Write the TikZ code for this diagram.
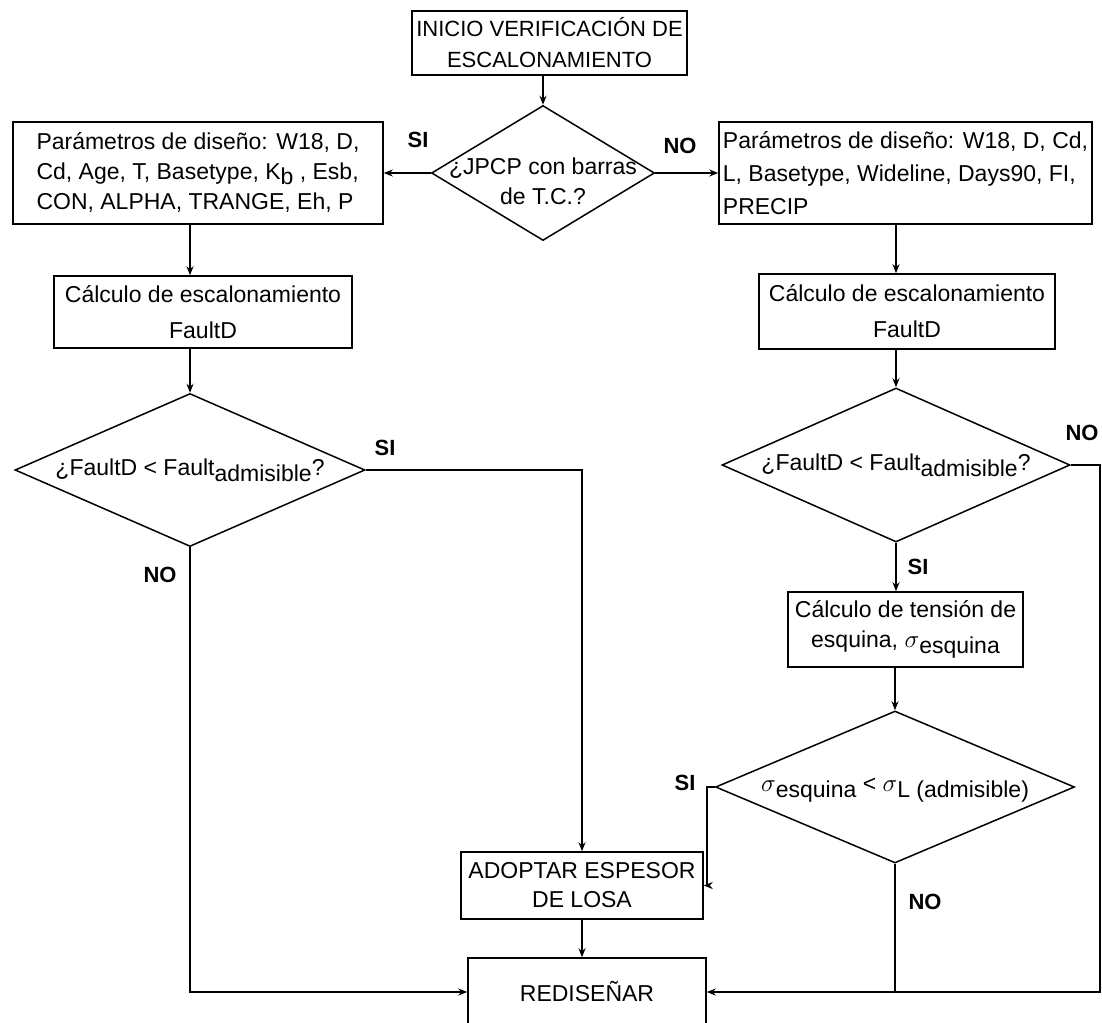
\documentclass[tikz,border=0pt]{standalone}
\usepackage{fontspec}
\setmainfont{Liberation Sans}
\usetikzlibrary{shapes.geometric,arrows.meta}
\newcommand{\centrado}[2][-6pt]{\raisebox{#1}[0pt][0pt]{\makebox[0pt]{\begin{tabular}{@{}c@{}}#2\end{tabular}}}}
\begin{document}
\begin{tikzpicture}[x=1pt,y=-1pt,
font=\fontsize{23}{30}\selectfont,
caja/.style={draw,line width=1.5pt,inner sep=2pt,align=center},
rombo/.style={diamond,draw,line width=1.5pt,inner sep=0pt},
flecha/.style={draw,line width=1.5pt,-{Stealth[length=9pt,width=7pt]}},
linea/.style={draw,line width=1.5pt},
rotulo/.style={font=\fontsize{22}{22}\selectfont\bfseries}]
\path[use as bounding box,fill=white] (0,0) rectangle (1102,1022);
\node[caja,minimum width=275pt,minimum height=64pt,font=\fontsize{22}{31}\selectfont] (1) at (549.5,43) {INICIO VERIFICACIÓN DE\\ESCALONAMIENTO};
\node[rombo,minimum width=223pt,minimum height=135pt] (2) at (543,173) {\centrado[-17pt]{¿JPCP con barras\\de T.C.?}};
\node[caja,align=left,minimum width=370pt,minimum height=102pt] (3) at (198,173) {Parámetros de diseño: W18, D,\\Cd, Age, T, Basetype, K\raisebox{-5pt}{b} , Esb,\\CON, ALPHA, TRANGE, Eh, P};
\node[caja,align=left,minimum width=373pt,minimum height=102pt,font=\fontsize{23}{33}\selectfont] (4) at (905.5,173) {Parámetros de diseño: W18, D, Cd,\\L, Basetype, Wideline, Days90, FI,\\PRECIP};
\node[caja,minimum width=298pt,minimum height=72pt,font=\fontsize{23}{36}\selectfont] (5) at (203,312) {Cálculo de escalonamiento\\FaultD};
\node[caja,minimum width=296pt,minimum height=75pt,font=\fontsize{23}{36}\selectfont] (6) at (907,311.5) {Cálculo de escalonamiento\\FaultD};
\node[rombo,minimum width=350pt,minimum height=153pt] (7) at (190,470) {\centrado{¿FaultD < Fault\raisebox{-6pt}{admisible}?}};
\node[rombo,minimum width=348pt,minimum height=154pt] (8) at (896,465) {\centrado{¿FaultD < Fault\raisebox{-6pt}{admisible}?}};
\node[caja,minimum width=235pt,minimum height=75pt] (9) at (905.5,629.5) {Cálculo de tensión de\\esquina, $\sigma$\raisebox{-6pt}{esquina}};
\node[rombo,minimum width=359pt,minimum height=152pt] (10) at (895,787) {\centrado{$\sigma$\raisebox{-6pt}{esquina} < $\sigma$\raisebox{-6pt}{L (admisible)}}};
\node[caja,minimum width=242pt,minimum height=67pt,font=\fontsize{23}{29}\selectfont] (11) at (582,885.5) {ADOPTAR ESPESOR\\DE LOSA};
\node[caja,minimum width=238pt,minimum height=68pt] (12) at (587,992) {REDISEÑAR};
\node[rotulo] (13) at (418,140) {SI};
\node[rotulo] (14) at (680,146) {NO};
\node[rotulo] (15) at (385,448) {SI};
\node[rotulo] (16) at (160,575) {NO};
\node[rotulo] (17) at (1082,433) {NO};
\node[rotulo] (18) at (918,567) {SI};
\node[rotulo] (19) at (685,783) {SI};
\node[rotulo] (20) at (925,902) {NO};
\coordinate (21) at (1100,0);
\path[flecha] (1.south -| 2.north) -- (2.north);
\path[flecha] (2.west) -- (3.east);
\path[flecha] (2.east) -- (4.west);
\path[flecha] (3.south -| 7.north) -- (5.north -| 7.north);
\path[flecha] (5.south -| 7.north) -- (7.north);
\path[flecha] (4.south -| 8.north) -- (6.north -| 8.north);
\path[flecha] (6.south -| 8.north) -- (8.north);
\path[flecha] (8.south) -- (9.north -| 8.south);
\path[flecha] (9.south -| 10.north) -- (10.north);
\path[flecha] (7.east) -| (11.north);
\path[flecha] (7.south) |- (12.west);
\path[flecha] (8.east) -| (21 |- 12.east) -- (12.east);
\path[linea] (10.south) -- (10.south |- 12.east);
\path[flecha] (10.west) -- ++(-8,0) |- (11.east);
\path[flecha] (11.south) -- (11.south |- 12.north);
\end{tikzpicture}
\end{document}
